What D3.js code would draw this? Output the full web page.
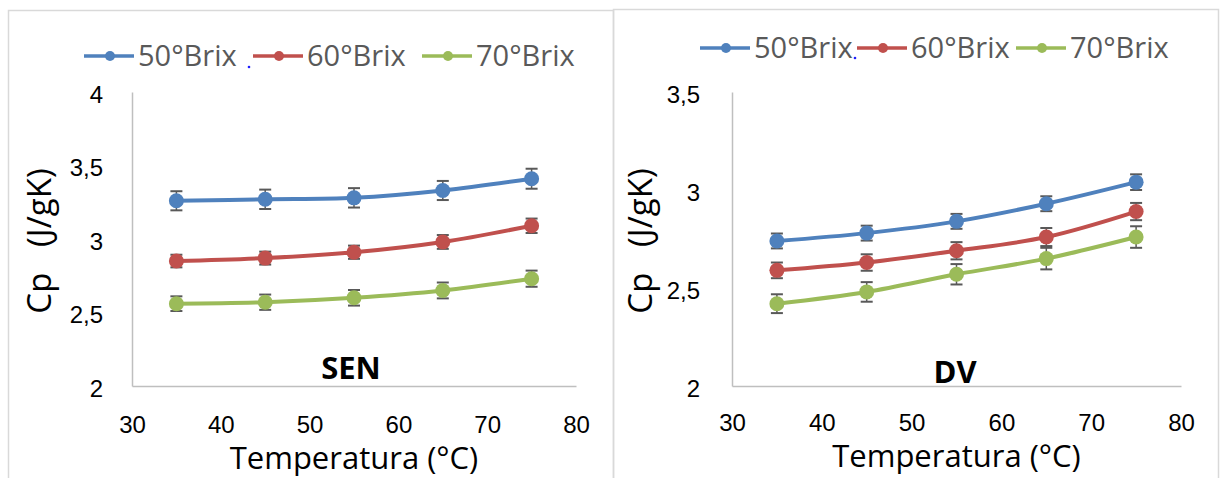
<!DOCTYPE html>
<html>
<head>
<meta charset="utf-8">
<script src="https://cdn.jsdelivr.net/npm/d3@7"></script>
<style>
  html, body { margin: 0; padding: 0; background: #fff; }
  svg { display: block; font-family: 'Open Sans', 'Noto Sans', sans-serif; }
</style>
</head>
<body>
<svg id="chart" width="1220" height="478"></svg>
<script>
// Cp vs temperatura, two panels (SEN, DV)
var temps = [35, 45, 55, 65, 75];
var seriesNames = ['50°Brix', '60°Brix', '70°Brix'];
var seriesColors = ['#4f81bd', '#c0504d', '#9bbb59'];

var sen50 = [3.26, 3.27, 3.28, 3.33, 3.41];
var sen60 = [2.85, 2.87, 2.91, 2.98, 3.09];
var sen70 = [2.56, 2.57, 2.60, 2.65, 2.73];
var senErr50 = [0.065, 0.066, 0.066, 0.065, 0.068];
var senErr60 = [0.043, 0.044, 0.045, 0.047, 0.049];
var senErr70 = [0.05, 0.052, 0.053, 0.054, 0.055];

var dv50 = [2.74, 2.78, 2.84, 2.93, 3.04];
var dv60 = [2.59, 2.63, 2.69, 2.76, 2.89];
var dv70 = [2.42, 2.48, 2.57, 2.65, 2.76];
var dvErr50 = [0.038, 0.038, 0.038, 0.038, 0.04];
var dvErr60 = [0.04, 0.042, 0.044, 0.046, 0.044];
var dvErr70 = [0.048, 0.05, 0.052, 0.055, 0.055];

var xTicks = [30, 40, 50, 60, 70, 80];
var senYTicks = [2, 2.5, 3, 3.5, 4];
var dvYTicks = [2, 2.5, 3, 3.5];

var svg = d3.select('#chart');
var fmt = function(v) { return String(v).replace('.', ','); };

function drawPanel(p) {
  var g = svg.append('g');

  // panel frame
  g.append('rect').attr('x', p.frame[0] + 0.5).attr('y', p.frame[1] + 0.5)
    .attr('width', p.frame[2]).attr('height', 500)
    .attr('fill', 'none').attr('stroke', '#d9d9d9').attr('stroke-width', 1.5);

  var x = d3.scaleLinear().domain([30, 80]).range(p.xr);
  var y = d3.scaleLinear().domain(p.yd).range([386, 92]);

  // axes
  var xa = g.append('g').attr('transform', 'translate(0,386)')
    .call(d3.axisBottom(x).tickValues(xTicks).tickSize(0).tickPadding(0));
  xa.select('.domain').attr('stroke', '#bfbfbf').attr('stroke-width', 1.5);
  xa.selectAll('text').attr('font-size', '24px').attr('fill', '#000')
    .attr('dy', null).attr('y', p.xTickY - 386);

  var ya = g.append('g').attr('transform', 'translate(' + p.xr[0] + ',0)')
    .call(d3.axisLeft(y).tickValues(p.yTicks).tickFormat(fmt).tickSize(0).tickPadding(0));
  ya.select('.domain').attr('stroke', '#bfbfbf').attr('stroke-width', 1.5);
  ya.selectAll('text').attr('font-size', '24px').attr('fill', '#000')
    .attr('dy', null).attr('x', p.yTickX - p.xr[0]).attr('y', 10);

  // axis titles
  g.append('text').attr('x', (p.xr[0] + p.xr[1]) / 2).attr('y', p.titleY)
    .attr('text-anchor', 'middle').attr('font-size', '31px').attr('fill', '#000')
    .text('Temperatura (°C)');
  g.append('text').attr('transform', 'translate(' + p.cpX + ',241) rotate(-90)')
    .attr('text-anchor', 'middle').attr('font-size', '33px').attr('fill', '#000')
    .style('white-space', 'pre').text('Cp   (J/gK)');

  // panel label
  g.append('text').attr('x', p.labelX).attr('y', p.labelY)
    .attr('text-anchor', 'middle').attr('font-size', '31px').attr('font-weight', 'bold')
    .attr('fill', '#000').text(p.label);

  var line = d3.line().curve(d3.curveCatmullRom.alpha(0.5))
    .x(function(d) { return x(d.t); }).y(function(d) { return y(d.v); });

  p.series.forEach(function(s, i) {
    var pts = temps.map(function(t, j) { return { t: t, v: s.v[j], e: s.e[j] }; });
    g.append('path').datum(pts).attr('d', line).attr('fill', 'none')
      .attr('stroke', seriesColors[i]).attr('stroke-width', 4);
    var eb = g.selectAll('.eb' + i).data(pts).enter().append('g');
    eb.append('line').attr('x1', function(d) { return x(d.t); }).attr('x2', function(d) { return x(d.t); })
      .attr('y1', function(d) { return y(d.v - d.e); }).attr('y2', function(d) { return y(d.v + d.e); })
      .attr('stroke', '#595959').attr('stroke-width', 1.5);
    [-1, 1].forEach(function(sg) {
      eb.append('line').attr('x1', function(d) { return x(d.t) - 6; }).attr('x2', function(d) { return x(d.t) + 6; })
        .attr('y1', function(d) { return y(d.v + sg * d.e); }).attr('y2', function(d) { return y(d.v + sg * d.e); })
        .attr('stroke', '#595959').attr('stroke-width', 2);
    });
    g.selectAll('.mk' + i).data(pts).enter().append('circle')
      .attr('cx', function(d) { return x(d.t); }).attr('cy', function(d) { return y(d.v); })
      .attr('r', 7.5).attr('fill', seriesColors[i]);
  });

  // legend
  var lg = g.append('g');
  p.legend.forEach(function(l, i) {
    lg.append('line').attr('x1', l[0]).attr('x2', l[0] + 50).attr('y1', p.legY).attr('y2', p.legY)
      .attr('stroke', seriesColors[i]).attr('stroke-width', 3.5);
    lg.append('circle').attr('cx', l[0] + 26).attr('cy', p.legY).attr('r', 5).attr('fill', seriesColors[i]);
    lg.append('text').attr('x', l[0] + 54).attr('y', p.legY + 10).attr('font-size', '29px')
      .attr('fill', '#595959').text(seriesNames[i]);
  });
  lg.append('circle').attr('cx', p.dot[0]).attr('cy', p.dot[1]).attr('r', 1.3).attr('fill', '#1f1fff');
}

drawPanel({
  frame: [8, 10, 605], xr: [132, 576], yd: [2, 4], yTicks: senYTicks,
  xTickY: 433, yTickX: 103, titleY: 469, cpX: 51,
  label: 'SEN', labelX: 351, labelY: 379,
  series: [{ v: sen50, e: senErr50 }, { v: sen60, e: senErr60 }, { v: sen70, e: senErr70 }],
  legY: 56, legend: [[84], [253], [422]], dot: [249, 67]
});

drawPanel({
  frame: [613, 9, 605], xr: [732, 1181], yd: [2, 3.5], yTicks: dvYTicks,
  xTickY: 431, yTickX: 700, titleY: 467, cpX: 652,
  label: 'DV', labelX: 955, labelY: 383,
  series: [{ v: dv50, e: dvErr50 }, { v: dv60, e: dvErr60 }, { v: dv70, e: dvErr70 }],
  legY: 48, legend: [[700], [857], [1016]], dot: [855, 58]
});
</script>
</body>
</html>
